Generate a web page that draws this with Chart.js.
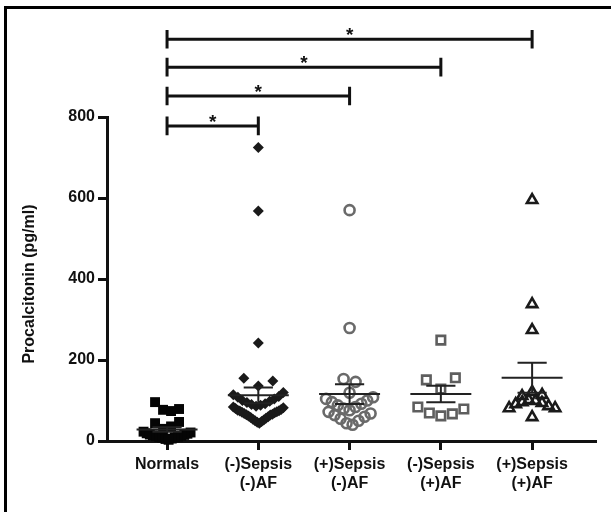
<!DOCTYPE html>
<html><head><meta charset="utf-8">
<script src="https://cdn.jsdelivr.net/npm/chart.js@4.4.1/dist/chart.umd.min.js"></script>
<style>html,body{margin:0;padding:0;background:#fff}canvas{display:block}</style>
</head><body>
<canvas id="c" width="611" height="512"></canvas>
<script>
// ---- data ----
const categories = [["Normals"], ["(-)Sepsis", "(-)AF"], ["(+)Sepsis", "(-)AF"], ["(-)Sepsis", "(+)AF"], ["(+)Sepsis", "(+)AF"]];
const normals = [96, 79, 77, 74, 47, 44, 36, 30, 23, 21, 19, 18, 16, 15, 14, 13, 12, 11, 10, 9, 8, 6, 5, 3];
const sepsisNegAfNeg = [725, 568, 242, 155, 148, 136, 44, 46, 48, 50, 52, 54, 56, 58, 60, 62, 64, 65, 66, 68, 70, 71, 72, 74, 75, 76, 78, 80, 82, 84, 86, 88, 90, 92, 95, 98, 100, 104, 108, 110, 114, 120];
const sepsisPosAfNeg = [570, 279, 153, 146, 119, 40, 44, 50, 55, 60, 64, 68, 72, 76, 80, 84, 88, 92, 96, 100, 104, 108];
const sepsisNegAfPos = [249, 156, 151, 128, 84, 79, 69, 67, 62];
const sepsisPosAfPos = [595, 338, 274, 121, 114, 111, 101, 99, 96, 94, 91, 86, 81, 81, 59];
const yTicks = [0, 200, 400, 600, 800];
const comparisons = [[0, 4], [0, 3], [0, 2], [0, 1]];
const bracketLevels = [992, 923, 852, 778];
const yTitle = "Procalcitonin (pg/ml)";

// ---- styles ----
const FONT = '"Liberation Sans", Arial, Helvetica, sans-serif';
const groups = [normals, sepsisNegAfNeg, sepsisPosAfNeg, sepsisNegAfPos, sepsisPosAfPos];
// B: row grouping range (value units), S: max spacing px, W: max row width px
const groupStyle = [
  {pointStyle: 'rect', r: 7, fill: '#050505', stroke: '#050505', bw: 0, B: 22, S: 8, W: 47, desc: false},
  {pointStyle: 'rectRot', r: 5.5, fill: '#1a1a1a', stroke: '#1a1a1a', bw: 0, B: 41, S: 14.5, W: 50, desc: false},
  {pointStyle: 'circle', r: 5, fill: 'rgba(0,0,0,0)', stroke: '#6a6a6a', bw: 2.6, B: 35, S: 6, W: 47, desc: false},
  {pointStyle: 'rect', r: 6, fill: 'rgba(0,0,0,0)', stroke: '#5e5e5e', bw: 2.6, B: 30, S: 14.5, W: 46, desc: false},
  {pointStyle: 'triangle', r: 6, fill: 'rgba(0,0,0,0)', stroke: '#1a1a1a', bw: 2.6, B: 20, S: 10, W: 46, desc: true}
];
const PXX = 91.25;
const MEAN_HALF = 0.334, CAP_HALF = 0.16, BRACKET_TICK = 23;

function rowOffsets(vals, cfg) {
  const idx = vals.map((v, i) => i).sort((a, b) => vals[a] - vals[b]);
  const rows = [];
  let cur = null;
  idx.forEach(i => {
    if (!cur || vals[i] > cur.start + cfg.B) { cur = {start: vals[i], items: []}; rows.push(cur); }
    cur.items.push(i);
  });
  const offs = new Array(vals.length).fill(0);
  rows.forEach((row, r) => {
    const items = cfg.desc ? row.items.slice().reverse() : row.items;
    const n = items.length;
    const s = n > 1 ? Math.min(cfg.S, cfg.W / (n - 1)) : 0;
    const side = r % 2 === 0 ? 1 : -1;
    items.forEach((i, k) => {
      let slot;
      if (n % 2 === 1) slot = k === 0 ? 0 : (k % 2 === 1 ? side : -side) * Math.ceil(k / 2);
      else slot = (k % 2 === 0 ? side : -side) * (Math.floor(k / 2) + 0.5);
      offs[i] = slot * s / PXX;
    });
  });
  return offs;
}
function meanSem(v) {
  const n = v.length, m = v.reduce((a, b) => a + b, 0) / n;
  const sd = Math.sqrt(v.reduce((a, b) => a + (b - m) * (b - m), 0) / (n - 1));
  return {m: m, s: sd / Math.sqrt(n)};
}

const datasets = [];
// brackets
comparisons.forEach((c, i) => {
  const L = bracketLevels[i], a = c[0], b = c[1];
  datasets.push({type: 'scatter', showLine: true, pointRadius: 0, borderColor: '#111', borderWidth: 3, clip: false,
    borderJoinStyle: 'miter',
    data: [{x: a, y: L - BRACKET_TICK}, {x: a, y: L + BRACKET_TICK}, {x: a, y: L}, {x: b, y: L}, {x: b, y: L + BRACKET_TICK}, {x: b, y: L - BRACKET_TICK}]});
});
// mean and SEM
groups.forEach((v, g) => {
  const st = meanSem(v);
  datasets.push({type: 'scatter', showLine: true, pointRadius: 0, borderColor: '#222', borderWidth: 2, clip: false,
    data: [{x: g - MEAN_HALF, y: st.m}, {x: g + MEAN_HALF, y: st.m}]});
  datasets.push({type: 'scatter', showLine: true, pointRadius: 0, borderColor: '#222', borderWidth: 2, clip: false,
    data: [{x: g - CAP_HALF, y: st.m + st.s}, {x: g + CAP_HALF, y: st.m + st.s}, {x: g, y: st.m + st.s},
           {x: g, y: st.m - st.s}, {x: g - CAP_HALF, y: st.m - st.s}, {x: g + CAP_HALF, y: st.m - st.s}]});
});
// points
groups.forEach((v, g) => {
  const s = groupStyle[g];
  const offs = rowOffsets(v, s);
  datasets.push({type: 'scatter', showLine: false, clip: false,
    pointStyle: s.pointStyle, pointRadius: s.r, pointBackgroundColor: s.fill, pointBorderColor: s.stroke, pointBorderWidth: s.bw,
    data: v.map((val, i) => ({x: g + offs[i], y: val}))});
});

const extras = {
  id: 'extras',
  beforeDraw(chart) {
    const ctx = chart.ctx;
    ctx.save();
    ctx.fillStyle = '#fff';
    ctx.fillRect(0, 0, chart.width, chart.height);
    ctx.fillStyle = '#000';
    ctx.fillRect(4, 6, 3, chart.height);
    ctx.fillRect(4, 6, chart.width, 3);
    ctx.restore();
  },
  afterDraw(chart) {
    const ctx = chart.ctx, xs = chart.scales.x, ys = chart.scales.y, area = chart.chartArea;
    ctx.save();
    ctx.fillStyle = '#111';
    ctx.font = 'bold 19px ' + FONT;
    ctx.textAlign = 'center';
    ctx.textBaseline = 'alphabetic';
    comparisons.forEach((c, i) => {
      const x = (xs.getPixelForValue(c[0]) + xs.getPixelForValue(c[1])) / 2;
      const y = ys.getPixelForValue(bracketLevels[i]);
      ctx.fillText('*', x, y + 2);
    });
    ctx.translate(30, (area.top + area.bottom) / 2 + 5);
    ctx.rotate(-Math.PI / 2);
    ctx.font = 'bold 16px ' + FONT;
    ctx.textBaseline = 'middle';
    ctx.fillText(yTitle, 0, 0);
    ctx.restore();
  }
};

new Chart(document.getElementById('c'), {
  type: 'scatter',
  data: {datasets: datasets},
  options: {
    responsive: false, animation: false, devicePixelRatio: 1, events: [],
    layout: {padding: {left: 0, right: 15, top: 117, bottom: 0}},
    plugins: {legend: {display: false}, tooltip: {enabled: false}},
    scales: {
      x: {
        type: 'linear', min: -0.658, max: 4.70,
        afterBuildTicks: s => { s.ticks = categories.map((c, i) => ({value: i})); },
        afterFit: s => { s.height = 71; },
        ticks: {callback: v => categories[v], font: {family: FONT, size: 16, weight: 'bold'}, color: '#111', padding: 5, autoSkip: false, maxRotation: 0},
        grid: {drawOnChartArea: false, drawTicks: true, tickLength: 9, tickWidth: 3, color: '#111'},
        border: {display: true, width: 3, color: '#111'}
      },
      y: {
        min: 0, max: 800,
        afterBuildTicks: s => { s.ticks = yTicks.map(v => ({value: v})); },
        afterFit: s => { s.width = 107; },
        ticks: {font: {family: FONT, size: 16, weight: 'bold'}, color: '#111', padding: 3},
        grid: {drawOnChartArea: false, drawTicks: true, tickLength: 9, tickWidth: 3, color: '#111'},
        border: {display: true, width: 3, color: '#111'}
      }
    }
  },
  plugins: [extras]
});
</script>
</body></html>
